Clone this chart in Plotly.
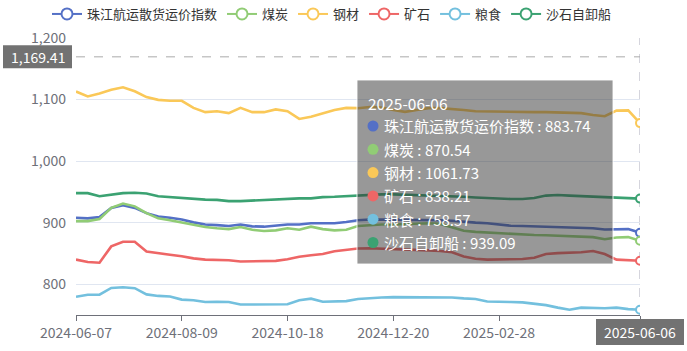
import plotly.graph_objects as go

# ---------------- data ----------------
dates = [
    "2024-06-07", "2024-06-14", "2024-06-21", "2024-06-28", "2024-07-05", "2024-07-12",
    "2024-07-19", "2024-07-26", "2024-08-02", "2024-08-09", "2024-08-16", "2024-08-23",
    "2024-08-30", "2024-09-06", "2024-09-13", "2024-09-20", "2024-09-27", "2024-10-11",
    "2024-10-18", "2024-10-25", "2024-11-01", "2024-11-08", "2024-11-15", "2024-11-22",
    "2024-11-29", "2024-12-06", "2024-12-13", "2024-12-20", "2024-12-27", "2025-01-03",
    "2025-01-10", "2025-01-17", "2025-01-24", "2025-02-07", "2025-02-14", "2025-02-21",
    "2025-02-28", "2025-03-07", "2025-03-14", "2025-03-21", "2025-03-28", "2025-04-11",
    "2025-04-18", "2025-04-25", "2025-05-09", "2025-05-16", "2025-05-23", "2025-05-30",
    "2025-06-06",
]

index_vals = [908, 907, 909, 924, 928.5, 924, 915.5, 910, 908, 905, 900.5, 897, 896, 894.5,
              897, 894, 893.5, 895.5, 897, 897, 899, 899, 899, 901, 904,
              905, 905.5, 905, 904.5, 904.5, 904, 904, 903, 901, 900, 899, 897, 895, 894.5,
              894, 893.5, 893, 892.5, 892, 891, 889, 889.5, 889.5, 883.74]
coal_vals = [902.5, 902.5, 906, 924, 931, 926.5, 915.5, 907, 904, 900.5, 897, 893, 891, 889.5,
             893, 888.5, 886.5, 887.5, 891, 888.5, 893.5, 889.5, 887.5, 888.5, 894.5,
             896, 897, 897, 898, 898.5, 899, 898, 893, 887, 885, 884, 882, 881, 880.5,
             880, 879.5, 879, 878.5, 877.5, 876.5, 873, 876, 876.5, 870.54]
steel_vals = [1113, 1105, 1110, 1116, 1120, 1113.5, 1104, 1099.5, 1098, 1098, 1086.5, 1079.5,
              1081, 1078, 1086.5, 1079.5, 1079.5, 1084, 1081, 1068.5, 1072, 1078, 1083, 1086.5,
              1086, 1088, 1087, 1083, 1080, 1083, 1086, 1086, 1085, 1083, 1081, 1080.5, 1080.5,
              1080, 1080, 1079.5, 1079.5, 1079, 1078.5, 1078, 1075, 1073, 1082, 1082.5, 1061.73]
ore_vals = [840, 836, 835, 861.5, 869, 869, 853, 851, 848, 845.5, 842, 840, 839.5, 839, 837,
            837, 838, 838, 840.5, 844.5, 847, 849, 853.5, 855.5, 858,
            858.5, 858, 857.5, 857, 856, 855, 854, 852, 845, 841.5, 840, 840, 840, 841,
            843, 849, 850.5, 851, 852, 854, 849, 840, 839.5, 838.21]
grain_vals = [779.5, 783, 783, 794, 795, 793.5, 783.5, 781, 780, 775, 774, 771, 771.5, 771,
              767, 767, 767, 767.5, 767.5, 774, 776.5, 771.5, 771.5, 772.5, 776,
              777.5, 778.5, 779, 779, 779, 779, 779, 778.5, 777, 776, 772, 771, 771, 770.5,
              768.5, 766, 762, 758.5, 762, 761.5, 761, 762, 759.5, 758.57]
sand_vals = [948, 948, 943, 946, 948, 948.5, 947.5, 943, 941.5, 940.5, 938.5, 937.5, 937, 935,
             935, 936, 936, 937.5, 938.5, 939.5, 939.5, 941.5, 942, 943, 945,
             946, 946, 946, 945.5, 945, 944.5, 944, 943, 942, 941, 940, 939, 938.5, 938.5,
             940, 944, 945, 944, 943, 942, 941, 940, 940, 939.09]

series_names = ["珠江航运散货运价指数", "煤炭", "钢材", "矿石", "粮食", "沙石自卸船"]
series_vals = [index_vals, coal_vals, steel_vals, ore_vals, grain_vals, sand_vals]
colors = ["#5470c6", "#91cc75", "#fac858", "#ee6666", "#73c0de", "#3ba272"]

tick_dates = ["2024-06-07", "2024-08-09", "2024-10-18", "2024-12-20", "2025-02-28", "2025-06-06"]
y_ticks = [800, 900, 1000, 1100, 1200]
y_min, y_max = 750, 1200
pointer_y = 1169.41
pointer_x = dates[-1]

# ---------------- layout geometry ----------------
W, H = 687, 351
ML, MR, MT, MB = 76, 47, 38, 36
PW = W - ML - MR
PH = H - MT - MB


def px(x):
    return (x - ML) / PW


def py(y):
    return (H - MB - y) / PH


FONT = "Noto Sans CJK SC, Noto Sans, sans-serif"
AXIS_GRAY = "#6E7079"

fig = go.Figure()

# data lines
for name, vals, col in zip(series_names, series_vals, colors):
    fig.add_trace(go.Scatter(
        x=dates, y=vals, mode="lines", name=name, showlegend=False,
        line=dict(color=col, width=2.6), hoverinfo="skip",
    ))

# highlighted end points
for name, vals, col in zip(series_names, series_vals, colors):
    fig.add_trace(go.Scatter(
        x=[dates[-1]], y=[vals[-1]], mode="markers", showlegend=False,
        marker=dict(symbol="circle", size=8, color="white", line=dict(color=col, width=2)),
        hoverinfo="skip",
    ))

# legend entries
for name, col in zip(series_names, colors):
    fig.add_trace(go.Scatter(
        x=[None], y=[None], mode="lines+markers", name=name, showlegend=True,
        line=dict(color=col, width=2),
        marker=dict(symbol="circle", size=11, color="white", line=dict(color=col, width=2)),
    ))

shapes = []
annotations = []

# axis pointer lines (cross)
shapes.append(dict(type="line", xref="x", yref="paper", x0=pointer_x, x1=pointer_x, y0=0, y1=1,
                   line=dict(color="#aab", width=1, dash="dash"), layer="below"))
shapes.append(dict(type="line", xref="paper", yref="y", x0=0, x1=1, y0=pointer_y, y1=pointer_y,
                   line=dict(color="#aaa", width=1, dash="dash"), layer="below"))

# y pointer label
shapes.append(dict(type="rect", xref="paper", yref="y", x0=px(3), x1=px(72),
                   ysizemode="pixel", yanchor=pointer_y, y0=-11.5, y1=11.5,
                   fillcolor="#727272", line=dict(width=0), layer="above"))
annotations.append(dict(xref="paper", yref="y", x=px(37.5), y=pointer_y, text=f"{pointer_y:,.2f}",
                        showarrow=False, xanchor="center", yanchor="middle", borderpad=0,
                        font=dict(family=FONT, size=14, color="white")))

# x pointer label (last category sits at the right edge of the plot area)
x_ptr_paper = 1.0
shapes.append(dict(type="rect", xref="paper", yref="paper", xsizemode="pixel", xanchor=x_ptr_paper,
                   x0=-44, x1=44, y0=py(345), y1=py(319),
                   fillcolor="#727272", line=dict(width=0), layer="above"))
annotations.append(dict(xref="paper", yref="paper", x=x_ptr_paper, y=py(332), text=pointer_x,
                        showarrow=False, xanchor="center", yanchor="middle", borderpad=0,
                        font=dict(family=FONT, size=14, color="white")))

# tooltip box
shapes.append(dict(type="rect", xref="paper", yref="paper", x0=px(357), x1=px(613),
                   y0=py(264), y1=py(80), fillcolor="rgba(50,50,50,0.5)",
                   line=dict(color="rgba(255,255,255,0.85)", width=1), layer="above"))
annotations.append(dict(xref="paper", yref="paper", x=px(367), y=py(103), text=pointer_x,
                        showarrow=False, xanchor="left", yanchor="middle", borderpad=0,
                        font=dict(family=FONT, size=15.5, color="white")))
row_y0, row_dy = 126, 23.3
for k, (name, vals, col) in enumerate(zip(series_names, series_vals, colors)):
    ry = row_y0 + k * row_dy
    shapes.append(dict(type="circle", xref="paper", yref="paper",
                       xsizemode="pixel", ysizemode="pixel",
                       xanchor=px(373), yanchor=py(ry), x0=-5.5, x1=5.5, y0=-5.5, y1=5.5,
                       fillcolor=col, line=dict(width=0), layer="above"))
    annotations.append(dict(xref="paper", yref="paper", x=px(383), y=py(ry),
                            text=f"{name} : {vals[-1]:.2f}", showarrow=False,
                            xanchor="left", yanchor="middle", borderpad=0,
                            font=dict(family=FONT, size=15, color="white")))

# last category label is covered by the axis-pointer label box
tick_text = tick_dates[:-1] + [""]

fig.update_layout(
    width=W, height=H,
    margin=dict(l=ML, r=MR, t=MT, b=MB, pad=0, autoexpand=False),
    paper_bgcolor="white", plot_bgcolor="white",
    font=dict(family=FONT, size=13, color="#333"),
    showlegend=True,
    legend=dict(orientation="h", xref="paper", yref="paper",
                x=px(47), xanchor="left", y=py(14), yanchor="middle",
                font=dict(family=FONT, size=13, color="#333"),
                itemwidth=30, tracegroupgap=0, bgcolor="rgba(0,0,0,0)"),
    xaxis=dict(type="category", range=[0, len(dates) - 1], tickmode="array",
               tickvals=tick_dates, ticktext=tick_text, showgrid=False,
               showline=True, linecolor=AXIS_GRAY, linewidth=1,
               ticks="outside", ticklen=5, tickcolor=AXIS_GRAY,
               tickfont=dict(family=FONT, size=14, color=AXIS_GRAY), zeroline=False),
    yaxis=dict(range=[y_min, y_max], tickmode="array", tickvals=y_ticks, tickformat=",d",
               showgrid=True, gridcolor="#E0E6F1", gridwidth=1, showline=False, zeroline=False,
               ticks="", ticklabelstandoff=9,
               tickfont=dict(family=FONT, size=14, color=AXIS_GRAY)),
    shapes=shapes, annotations=annotations,
    hovermode=False,
)

fig.write_html("out.html")
